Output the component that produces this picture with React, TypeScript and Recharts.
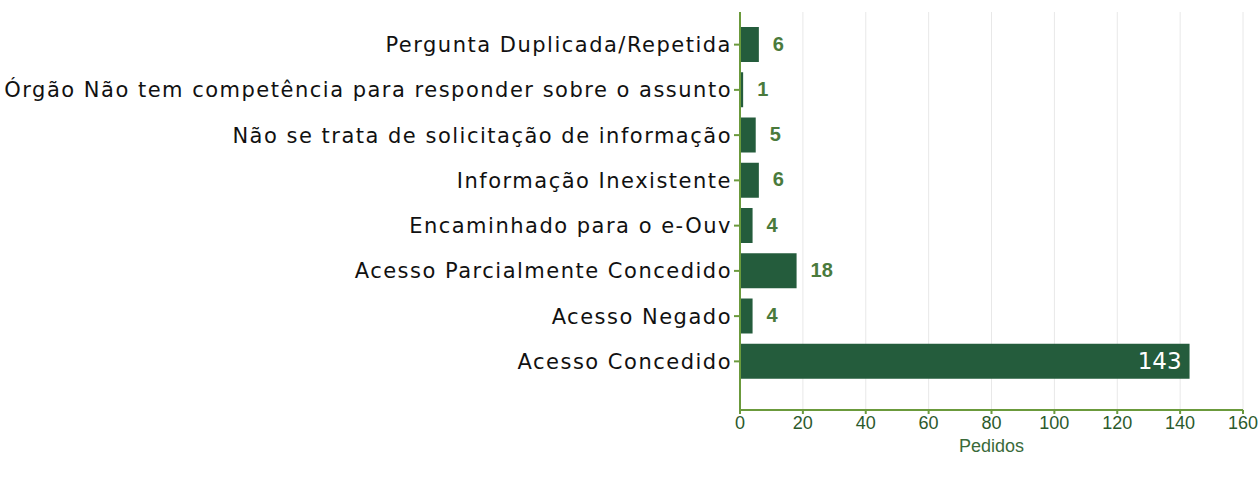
import React from 'react';
import { BarChart, Bar, XAxis, YAxis, CartesianGrid, LabelList } from 'recharts';

document.body.style.margin = '0';

const categories: string[] = [
  'Pergunta Duplicada/Repetida',
  'Órgão Não tem competência para responder sobre o assunto',
  'Não se trata de solicitação de informação',
  'Informação Inexistente',
  'Encaminhado para o e-Ouv',
  'Acesso Parcialmente Concedido',
  'Acesso Negado',
  'Acesso Concedido',
];
const pedidos: number[] = [6, 1, 5, 6, 4, 18, 4, 143];
const xTicks: number[] = [0, 20, 40, 60, 80, 100, 120, 140, 160];

const data = categories.map((name, i) => ({ name, pedidos: pedidos[i] }));

const AXIS_GREEN = '#6b9a3c';
const BAR_GREEN = '#245c3c';
const TEXT_GREEN = '#4a7a3c';

// small numbers sit to the right of the bar, the big one goes inside in white
const ValueLabel = (props: any) => {
  const { x, y, width, height, value } = props;
  const cy = y + height / 2;
  if (value > 100) {
    return (
      <text x={x + width - 8} y={cy} dy="0.35em" textAnchor="end" fill="#ffffff"
        fontFamily="DejaVu Sans" fontSize={23}>
        {value}
      </text>
    );
  }
  return (
    <text x={x + width + 14} y={cy} dy="0.3em" textAnchor="start" fill={TEXT_GREEN}
      fontFamily="Liberation Sans" fontWeight="bold" fontSize={20}>
      {value}
    </text>
  );
};

const App = () => {
  return (
    <BarChart
      width={1260}
      height={482}
      data={data}
      layout="vertical"
      margin={{ top: 12, right: 17, left: 0, bottom: 0 }}
      barSize={35}
    >
      <CartesianGrid horizontal={false} stroke="#e8e8e8" />
      <XAxis
        type="number"
        domain={[0, 160]}
        ticks={xTicks}
        height={72}
        stroke={AXIS_GREEN}
        strokeWidth={2}
        tickSize={4}
        tick={{ fill: '#2c5a2c', fontSize: 18, fontFamily: 'Liberation Sans' }}
        label={{ value: 'Pedidos', position: 'insideBottom', offset: 30, fill: '#3a6a3a', fontSize: 18, fontFamily: 'Liberation Sans' }}
      />
      <YAxis
        type="category"
        dataKey="name"
        width={740}
        stroke={AXIS_GREEN}
        strokeWidth={2}
        tickSize={6}
        tickMargin={2}
        padding={{ top: 10, bottom: 26 }}
        interval={0}
        tick={{ fill: '#111111', fontSize: 21, fontFamily: 'DejaVu Sans', letterSpacing: 1.5 }}
      />
      <Bar dataKey="pedidos" fill={BAR_GREEN} isAnimationActive={false}>
        <LabelList dataKey="pedidos" content={ValueLabel} />
      </Bar>
    </BarChart>
  );
};

export default App;
